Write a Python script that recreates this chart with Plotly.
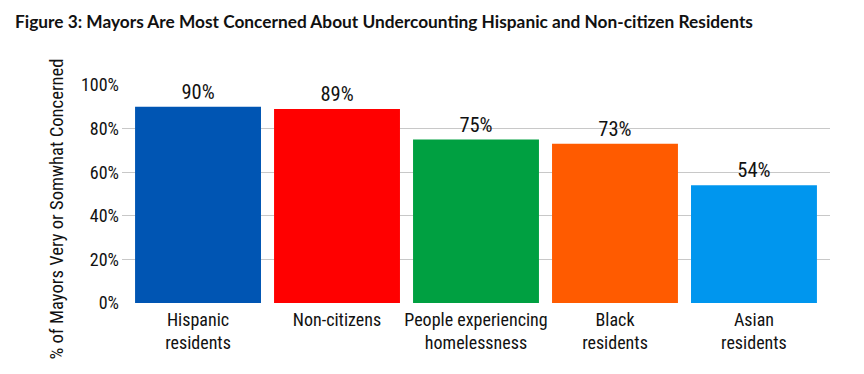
import plotly.graph_objects as go

categories = ["Hispanic<br>residents", "Non-citizens", "People experiencing<br>homelessness",
              "Black<br>residents", "Asian<br>residents"]
values = [90, 89, 75, 73, 54]
colors = ["#0055B3", "#FF0000", "#00A041", "#FF5B00", "#0096EE"]
y_ticks = [0, 20, 40, 60, 80, 100]
y_tick_labels = ["0%", "20%", "40%", "60%", "80%", "100%"]
y_title = "% of Mayors Very or Somwhat Concerned"

NARROW = "Liberation Sans Narrow, Arial Narrow, Roboto Condensed, sans-serif"

# page body has an 8px default margin; compensate so the figure fills the 864x374 window
OFF = 8
W, H = 864 - OFF, 374 - OFF
PLOT_L, PLOT_R, PLOT_T, PLOT_B = 122, 830, 85, 303

fig = go.Figure()
fig.add_trace(go.Bar(
    x=list(range(len(categories))),
    y=values,
    marker=dict(color=colors, line=dict(width=0)),
    text=[f"{v}%" for v in values],
    textposition="outside",
    textfont=dict(family=NARROW, size=20.5, color="#111111"),
    cliponaxis=False,
))

fig.update_layout(
    width=W, height=H,
    margin=dict(l=PLOT_L - OFF, r=W + OFF - PLOT_R, t=PLOT_T - OFF, b=H + OFF - PLOT_B,
                autoexpand=False),
    paper_bgcolor="white", plot_bgcolor="white",
    bargap=0.094,
    showlegend=False,
    title=dict(
        text="<b>Figure 3: Mayors Are Most Concerned About Undercounting Hispanic and Non-citizen Residents</b>",
        font=dict(family="Lato, sans-serif", size=17.3, color="#111111"),
        x=(15 - OFF) / W, xref="container", xanchor="left",
        y=1 - (22 - OFF) / H, yref="container", yanchor="middle",
    ),
    xaxis=dict(
        tickmode="array",
        tickvals=list(range(len(categories))),
        ticktext=categories,
        range=[-0.547, 4.547],
        showgrid=False, zeroline=False, showline=False,
        tickfont=dict(family=NARROW, size=18, color="#111111"),
        ticks="", ticklen=0, automargin=False, ticklabelstandoff=4,
    ),
    yaxis=dict(
        range=[0, 100],
        tickmode="array", tickvals=y_ticks, ticktext=y_tick_labels,
        showgrid=True, gridcolor="#C8C8C8", gridwidth=1,
        zeroline=False, showline=False,
        tickfont=dict(family=NARROW, size=18, color="#111111"),
        ticks="", ticklabelstandoff=2, automargin=False,
    ),
    annotations=[dict(
        text=y_title, textangle=-90, showarrow=False,
        xref="paper", yref="paper",
        x=(56.5 - PLOT_L) / (PLOT_R - PLOT_L), y=(PLOT_B - 209) / (PLOT_B - PLOT_T),
        xanchor="center", yanchor="middle",
        font=dict(family=NARROW, size=18.6, color="#111111"),
    )],
)

fig.write_html("out.html")
